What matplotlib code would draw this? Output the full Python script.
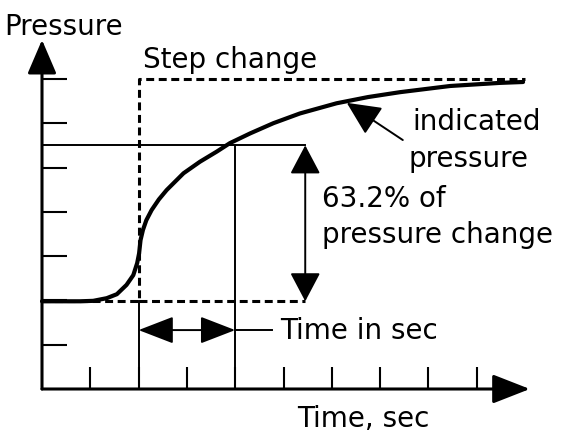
import matplotlib.pyplot as plt

# data in diagram units (time ticks, pressure ticks)
t_ticks = [1, 2, 3, 4, 5, 6, 7, 8, 9]
p_ticks = [1, 2, 3, 4, 5, 6, 7]

curve_t = [0, 0.79, 1.06, 1.34, 1.55, 1.75, 1.89, 1.97, 2.01, 2.04, 2.09, 2.16,
           2.27, 2.42, 2.58, 2.93, 3.27, 3.62, 3.89, 4.31, 4.79, 5.34, 6.10, 6.75,
           7.41, 8.45, 9.48, 9.96]
curve_p = [1.98, 1.98, 1.99, 2.05, 2.14, 2.35, 2.57, 2.84, 3.06, 3.36, 3.59, 3.81,
           4.04, 4.28, 4.49, 4.87, 5.13, 5.36, 5.55, 5.77, 6.00, 6.22, 6.45, 6.59,
           6.70, 6.84, 6.91, 6.93]

p_start = 1.98     # pressure before the step
p_end = 7.0        # pressure after the step
t_step = 2.0       # time of the step
t_tau = 4.0        # time constant point
p_tau = 5.5        # 63.2% level
t_meas = 5.45      # x of the 63.2% arrow
t_end = 10.0
p_tau_arrow = 1.33

fig = plt.figure(figsize=(5.63, 4.32), dpi=100)
ax = fig.add_axes([0, 0, 1, 1])
ax.set_xlim(-42 / 48.3, (563 - 42) / 48.3)
ax.set_ylim(-43 / 44.3, 389 / 44.3)
ax.axis('off')

k = 'black'

# axes with arrows
ax.annotate('', xy=(10.1, 0), xytext=(0, 0),
            arrowprops=dict(arrowstyle='-|>,head_length=2.3,head_width=0.9',
                            mutation_scale=10, lw=2.2, color=k,
                            shrinkA=0, shrinkB=0))
ax.annotate('', xy=(0, 7.88), xytext=(0, 0),
            arrowprops=dict(arrowstyle='-|>,head_length=2.1,head_width=0.9',
                            mutation_scale=10, lw=2.2, color=k,
                            shrinkA=0, shrinkB=0))

# tick marks
for t in t_ticks:
    ax.plot([t, t], [0, 0.5], color=k, lw=1.5, solid_capstyle='butt')
for p in p_ticks:
    ax.plot([0, 0.52], [p, p], color=k, lw=1.5, solid_capstyle='butt')

# step change (dashed)
dash = (0, (2.6, 1.5))
ax.plot([0, t_step, t_step, t_end], [p_start, p_start, p_end, p_end],
        color=k, lw=2.2, linestyle=dash)
ax.plot([t_step, t_meas], [p_start, p_start], color=k, lw=2.2, linestyle=dash)

# reference lines
ax.plot([0, t_meas], [p_tau, p_tau], color=k, lw=1.4)
ax.plot([t_step, t_step], [0, p_start], color=k, lw=1.4)
ax.plot([t_tau, t_tau], [0, p_tau], color=k, lw=1.4)

# indicated pressure curve
ax.plot(curve_t, curve_p, color=k, lw=3, solid_capstyle='round',
        solid_joinstyle='round')

# 63.2% double arrow
ax.annotate('', xy=(t_meas, p_tau), xytext=(t_meas, p_start),
            arrowprops=dict(arrowstyle='<|-|>,head_length=1.8,head_width=0.95',
                            mutation_scale=10, lw=1.4, color=k,
                            shrinkA=0, shrinkB=0))

# time constant double arrow
ax.annotate('', xy=(t_tau, p_tau_arrow), xytext=(t_step, p_tau_arrow),
            arrowprops=dict(arrowstyle='<|-|>,head_length=2.2,head_width=0.85',
                            mutation_scale=10, lw=1.4, color=k,
                            shrinkA=0, shrinkB=0))
ax.plot([t_tau, 4.76], [p_tau_arrow, p_tau_arrow], color=k, lw=1.4)

# leader to the curve
ax.annotate('', xy=(6.31, 6.46), xytext=(7.47, 5.62),
            arrowprops=dict(arrowstyle='-|>,head_length=2.1,head_width=1.0',
                            mutation_scale=10, lw=1.4, color=k,
                            shrinkA=0, shrinkB=0))

fs = 20
ax.text(-0.787, 7.99, 'Pressure', fontsize=fs, va='baseline', ha='left')
ax.text(2.09, 7.25, 'Step change', fontsize=fs, va='baseline', ha='left')
ax.text(7.66, 5.85, 'indicated', fontsize=fs, va='baseline', ha='left')
ax.text(7.58, 5.01, 'pressure', fontsize=fs, va='baseline', ha='left')
ax.text(5.80, 4.11, '63.2% of', fontsize=fs, va='baseline', ha='left')
ax.text(5.80, 3.30, 'pressure change', fontsize=fs, va='baseline', ha='left')
ax.text(4.93, 1.13, 'Time in sec', fontsize=fs, va='baseline', ha='left')
ax.text(5.28, -0.86, 'Time, sec', fontsize=fs, va='baseline', ha='left')

fig.savefig('out.png', dpi=100)
